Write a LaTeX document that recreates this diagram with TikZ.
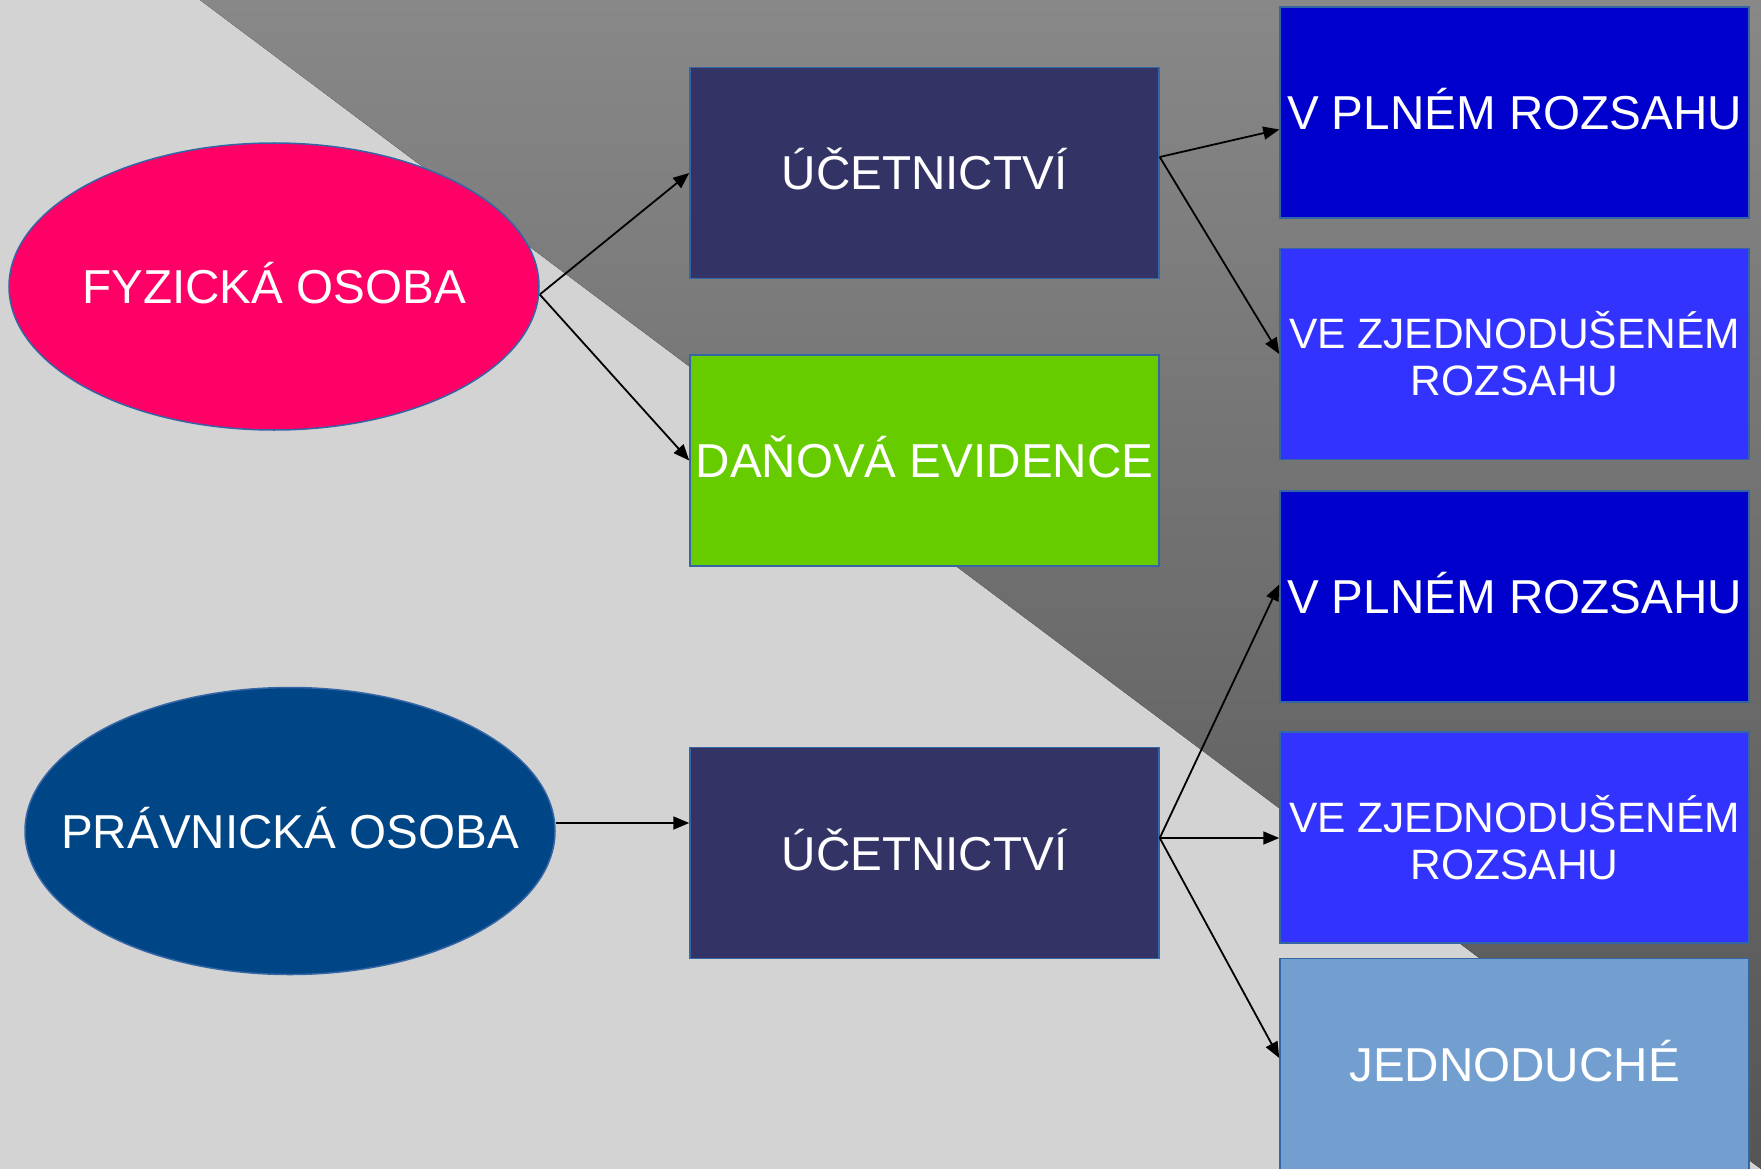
\documentclass[tikz,border=0pt]{standalone}
\usepackage{fontspec}
\setmainfont{Liberation Sans}
\usetikzlibrary{shapes.geometric, arrows.meta}
\definecolor{bglight}{HTML}{D3D3D3}
\definecolor{shadetop}{HTML}{888888}
\definecolor{shadebot}{HTML}{555555}
\definecolor{edgeblue}{HTML}{3465A4}
\definecolor{pinkfill}{HTML}{FF0066}
\definecolor{ovalblue}{HTML}{004586}
\definecolor{navy}{HTML}{333366}
\definecolor{grass}{HTML}{66CC00}
\definecolor{deepblue}{HTML}{0000CC}
\definecolor{brightblue}{HTML}{3333FF}
\definecolor{paleblue}{HTML}{729FCF}
\tikzstyle{block} = [draw=edgeblue, line width=1.5pt, rectangle, inner sep=0pt,
    minimum height=211pt, minimum width=469pt, text=white,
    text height=34pt, text depth=0pt,
    font=\fontsize{47.6}{56}\selectfont]
\tikzstyle{oval} = [draw=edgeblue, line width=1.5pt, ellipse, inner sep=0pt,
    minimum height=287pt, minimum width=530pt, text=white,
    text height=34pt, text depth=0pt,
    font=\fontsize{47.6}{56}\selectfont]
\tikzstyle{small} = [align=center, text height=, text depth=,
    font=\fontsize{42.5}{47}\selectfont]
\tikzstyle{arrow} = [line width=1.8pt, -{Triangle[length=16pt,width=13pt]}]

\begin{document}
\begin{tikzpicture}[x=1pt, y=-1pt]

    % Background
    \useasboundingbox (0,0) rectangle (1761,1169);
    \fill [bglight] (0,0) rectangle (1761,1169);
    \fill [top color=shadetop, bottom color=shadebot] (200,0) -- (1761,0) -- (1761,1169) -- cycle;

    % Persons
    \node (fyz) [oval, fill=pinkfill] at (274,286.5) {\makebox[0pt]{FYZICKÁ OSOBA}};
    \node (prav) [oval, fill=ovalblue] at (290,831) {\makebox[0pt]{PRÁVNICKÁ OSOBA}};

    % Records
    \node (ucto1) [block, fill=navy] at (924.5,173) {ÚČETNICTVÍ};
    \node (dan) [block, fill=grass] at (924.5,460.5) {DAŇOVÁ EVIDENCE};
    \node (ucto2) [block, fill=navy] at (924.5,853) {ÚČETNICTVÍ};

    % Scope
    \node (plny1) [block, fill=deepblue] at (1514.5,112.5) {V PLNÉM ROZSAHU};
    \node (zjed1) [block, small, fill=brightblue] at (1514.5,354) {VE ZJEDNODUŠENÉM\\ROZSAHU};
    \node (plny2) [block, fill=deepblue] at (1514.5,596.5) {V PLNÉM ROZSAHU};
    \node (zjed2) [block, small, fill=brightblue] at (1514.5,837.5) {VE ZJEDNODUŠENÉM\\ROZSAHU};
    \node (jedn) [block, fill=paleblue] at (1514.5,1064) {JEDNODUCHÉ};

    % Arrows
    \coordinate (fyzout) at ([yshift=-8pt]fyz.east);
    \coordinate (pravout) at ([yshift=8pt]prav.east);
    \coordinate (ucto1out) at ([yshift=16pt]ucto1.east);
    \coordinate (ucto2out) at ([yshift=15pt]ucto2.east);
    \draw [arrow] (fyzout) -- (ucto1.west);
    \draw [arrow] (fyzout) -- (dan.west);
    \draw [arrow] (pravout) -- (pravout -| ucto2.west);
    \draw [arrow] (ucto1out) -- ([yshift=-17pt]plny1.west);
    \draw [arrow] (ucto1out) -- (zjed1.west);
    \draw [arrow] (ucto2out) -- ([yshift=12pt]plny2.west);
    \draw [arrow] (ucto2out) -- (ucto2out -| zjed2.west);
    \draw [arrow] (ucto2out) -- ([yshift=6pt]jedn.west);

\end{tikzpicture}
\end{document}
